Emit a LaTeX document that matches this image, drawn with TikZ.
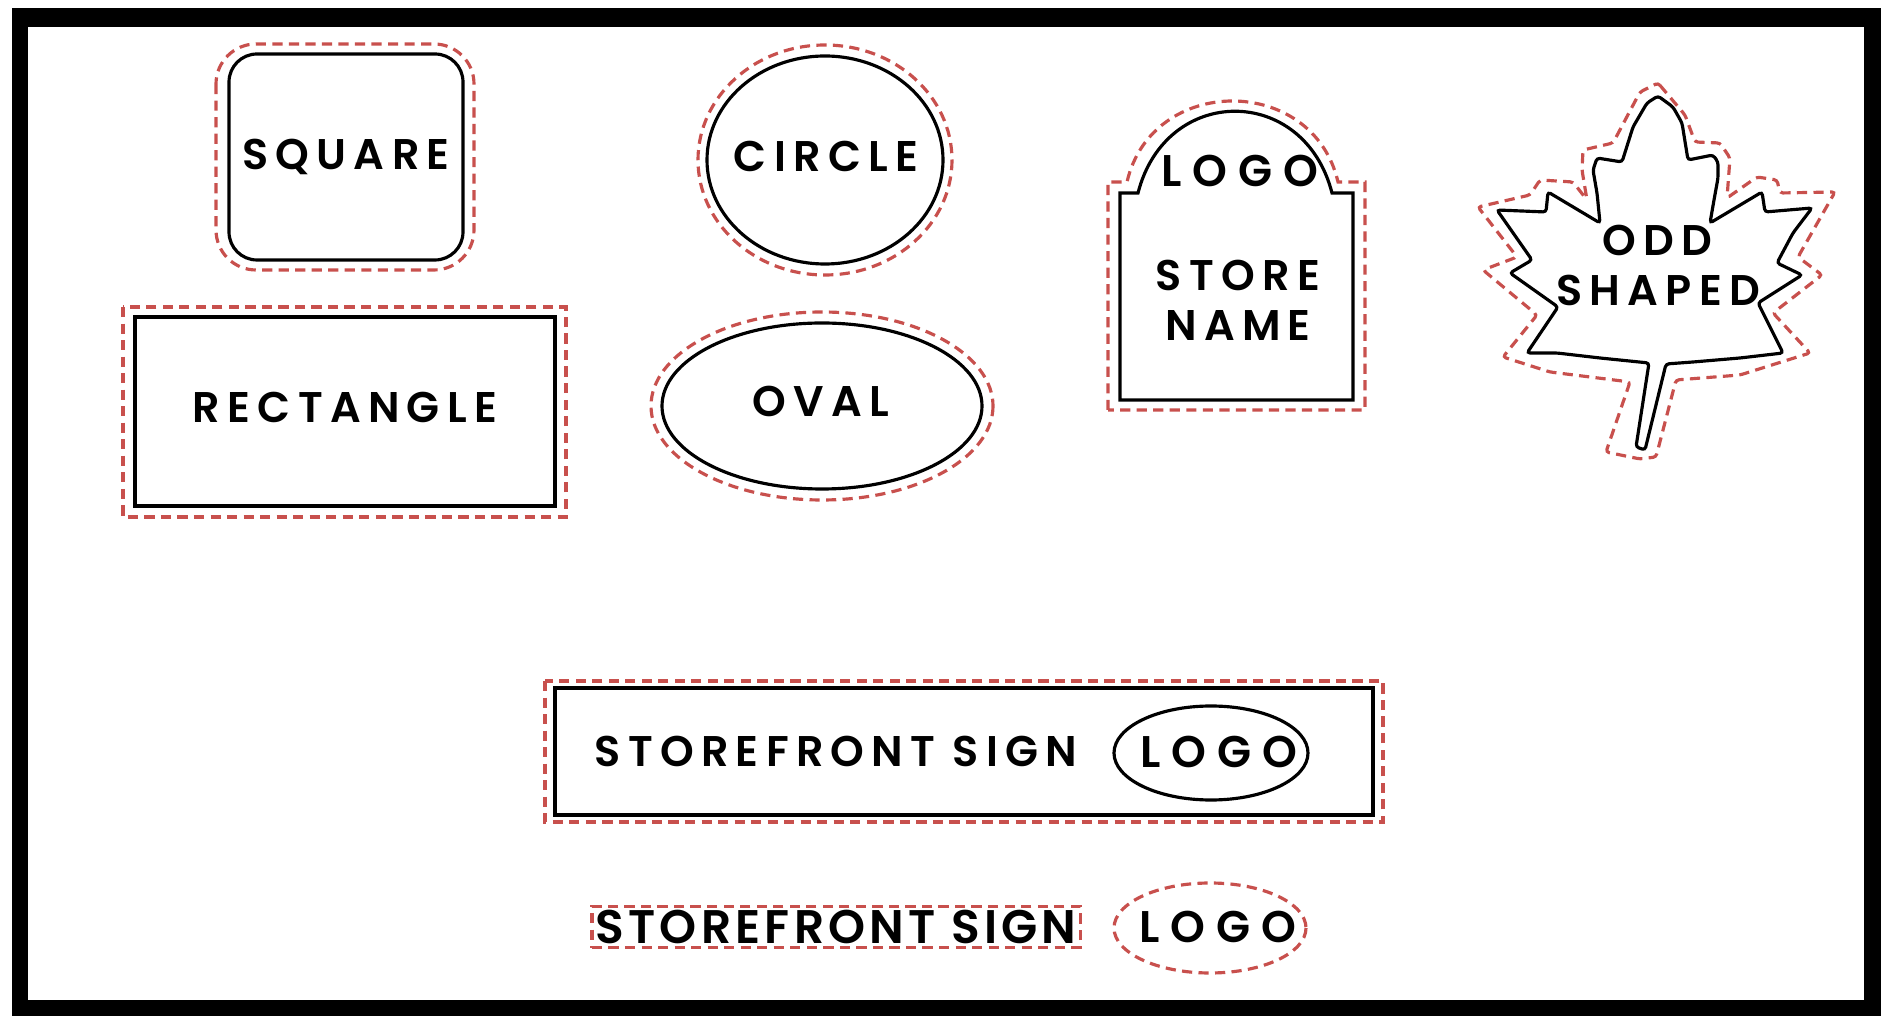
\documentclass[tikz,border=0pt]{standalone}
\usepackage{fontspec}
\usetikzlibrary{positioning}
\newfontfamily\signfont{Poppins}[LetterSpace=17,UprightFont=* SemiBold]
\newfontfamily\signfontwide{Poppins}[LetterSpace=25,UprightFont=* SemiBold]
\newfontfamily\signfontlow{Poppins}[LetterSpace=9,UprightFont=* SemiBold]
\definecolor{cutred}{HTML}{C8504D}
\tikzset{
  outline/.style={draw=black,line width=0.9pt},
  cutline/.style={draw=cutred,line width=0.9pt,dash pattern=on 2.9pt off 1.8pt},
  tag/.style={inner sep=0pt,text height=8.5pt,text depth=0pt,font=\signfont\fontsize{12.2pt}{14pt}\selectfont},
  taglogo/.style={tag,font=\signfontwide\fontsize{12.6pt}{14pt}\selectfont},
  taglow/.style={inner sep=0pt,text height=9.4pt,text depth=0pt,font=\signfontlow\fontsize{13.4pt}{15pt}\selectfont}
}

\begin{document}
\begin{tikzpicture}[x=0.01cm,y=-0.01cm]
\useasboundingbox (0,0) rectangle (1881,1016);
\fill[white] (0,0) rectangle (1881,1016);
\fill[black] (12,8) rectangle (1881,1016);
\fill[white] (28,27) rectangle (1864,1000);
\draw[outline,rounded corners=0.28cm] (229,54) rectangle (463,260);
\draw[cutline,rounded corners=0.4cm] (216,44) rectangle (474,270);
\node[tag] (square) at (346,155) {SQUARE};
\draw[outline] (135,317) rectangle (555,506);
\draw[cutline] (123,307) rectangle (566,517);
\node[tag] (rectangle) at (345,408) {RECTANGLE};
\draw[outline] (825,160) ellipse [x radius=118,y radius=104];
\draw[cutline] (825,160) ellipse [x radius=127,y radius=115];
\node[tag] (circle) at (826,157) {CIRCLE};
\draw[outline] (822,406) ellipse [x radius=160,y radius=83];
\draw[cutline] (822,406) ellipse [x radius=171,y radius=94];
\node[tag] (oval) at (821,402) {OVAL};
\draw[outline] (1120,400) -- (1120,193) -- (1138,193) .. controls (1166,84) and (1304,84) .. (1332,193) -- (1353,193) -- (1353,400) -- cycle;
\draw[cutline] (1108,410) -- (1108,182) -- (1127,182) .. controls (1152,74) and (1313,74) .. (1338,182) -- (1365,182) -- (1365,410) -- cycle;
\node[taglogo] (logo) at (1240,172) {LOGO};
\node[tag] (store) at (1238,276) {STORE};
\node[tag] (name) at (1238,326) {NAME};
\draw[outline,rounded corners=0.03cm] (1658,96) -- (1673,107) -- (1682,123) -- (1688,160) -- (1713,155) -- (1718,162) -- (1718,178) -- (1714,200) -- (1710,223) -- (1762,192) -- (1765,212) -- (1812,208) -- (1793,233) -- (1777,263) -- (1802,275) -- (1758,303) -- (1783,353) -- (1740,358) -- (1693,362) -- (1666,364) -- (1645,450) -- (1636,447) -- (1649,363) -- (1600,358) -- (1557,353) -- (1527,353) -- (1558,307) -- (1510,273) -- (1532,260) -- (1497,210) -- (1546,212) -- (1548,192) -- (1600,223) -- (1597,193) -- (1593,170) -- (1597,158) -- (1622,162) -- (1633,127) -- (1647,103) -- cycle;
\draw[cutline,rounded corners=0.03cm] (1658,83) -- (1685,115) -- (1695,142) -- (1720,143) -- (1730,158) -- (1727,198) -- (1757,177) -- (1777,180) -- (1780,193) -- (1835,192) -- (1798,257) -- (1822,275) -- (1773,313) -- (1810,353) -- (1740,375) -- (1676,380) -- (1656,457) -- (1640,459) -- (1606,452) -- (1630,382) -- (1550,372) -- (1503,357) -- (1537,315) -- (1483,270) -- (1517,257) -- (1478,207) -- (1530,195) -- (1540,180) -- (1573,182) -- (1587,200) -- (1582,170) -- (1583,150) -- (1613,143) -- (1640,92) -- cycle;
\node[tag] (odd) at (1657,241) {ODD};
\node[tag] (shaped) at (1658,291) {SHAPED};
\draw[outline] (555,688) rectangle (1373,815);
\draw[cutline] (545,681) rectangle (1383,822);
\node[tag] (front) at (836,752) {STOREFRONT SIGN};
\draw[outline] (1211,753) ellipse [x radius=97,y radius=47];
\node[taglogo] (frontlogo) at (1219,753) {LOGO};
\node[taglow,cutline,inner xsep=1pt,inner ysep=1.2pt] (signonly) at (836,927) {STOREFRONT SIGN};
\draw[cutline] (1210,928) ellipse [x radius=96,y radius=45];
\node[taglogo] (logoonly) at (1218,928) {LOGO};
\end{tikzpicture}
\end{document}
